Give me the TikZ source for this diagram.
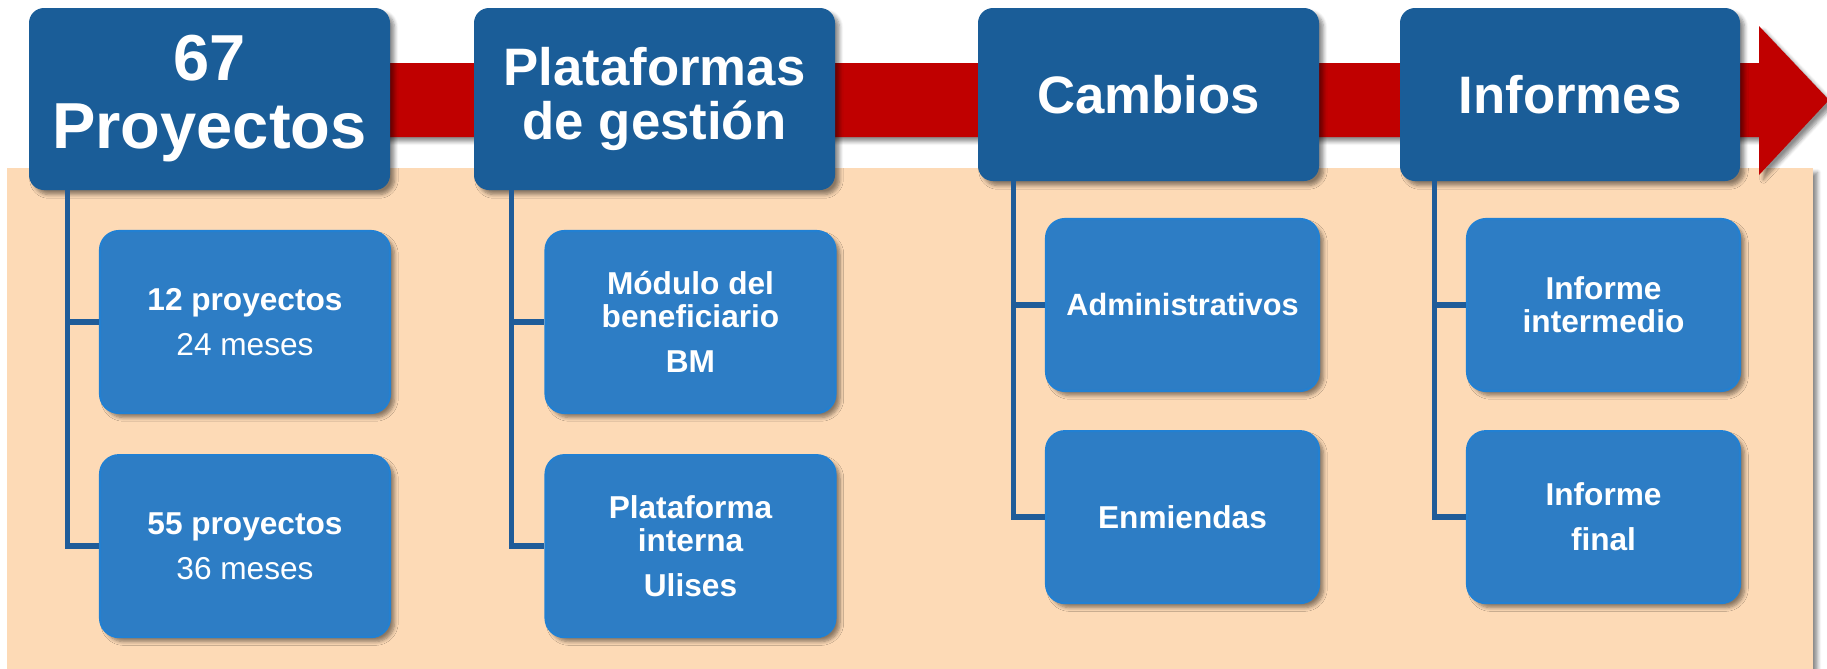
\documentclass[tikz,border=0pt]{standalone}
\usepackage{fontspec}
\setmainfont{Liberation Sans}
\usetikzlibrary{positioning, shadows.blur}

\definecolor{headblue}{HTML}{1A5D98}
\definecolor{itemblue}{HTML}{2D7DC5}
\definecolor{itemedge}{HTML}{2280D2}
\definecolor{linkblue}{HTML}{1F5C99}
\definecolor{arrowred}{HTML}{C00000}
\definecolor{peach}{HTML}{FDDAB6}

\begin{document}
\begin{tikzpicture}[
  inner sep=0pt,
  soft/.style={blur shadow={shadow xshift=0.09cm, shadow yshift=-0.09cm, shadow blur steps=6, shadow opacity=45}},
  head/.style={rectangle, rounded corners=0.3cm, fill=headblue, text=white, align=center, soft},
  item/.style={rectangle, rounded corners=0.38cm, fill=itemblue, draw=itemedge, line width=1.2pt,
    text=white, align=center, soft, font=\fontsize{18}{18.8}\selectfont\bfseries},
  wide/.style={item, minimum width=5.8cm, minimum height=3.64cm},
  narrow/.style={item, minimum width=5.46cm, minimum height=3.44cm},
  link/.style={draw=linkblue, line width=3pt}]

  \useasboundingbox (0,0) rectangle (36.54,-13.36);

  \fill[peach, soft] (0.14,-3.36) rectangle (36.26,-13.8);
  \fill[arrowred, soft] (6,-1.26) -- (35.18,-1.26) -- (35.18,-0.52) -- (36.58,-2.0)
    -- (35.18,-3.5) -- (35.18,-2.74) -- (6,-2.74) -- cycle;

  \node[head, minimum width=7.22cm, minimum height=3.64cm, font=\fontsize{37}{38.7}\selectfont\bfseries]
    (proy) at (4.19,-1.98) {67\\Proyectos};
  \node[head, minimum width=7.22cm, minimum height=3.64cm, font=\fontsize{30}{31}\selectfont\bfseries]
    (plat) at (13.09,-1.98) {Plataformas\\de gestión};
  \node[head, minimum width=6.82cm, minimum height=3.46cm, font=\fontsize{30}{31}\selectfont\bfseries]
    (camb) at (22.97,-1.89) {Cambios};
  \node[head, minimum width=6.80cm, minimum height=3.46cm, font=\fontsize{30}{31}\selectfont\bfseries]
    (info) at (31.40,-1.89) {Informes};

  \node[wide] (p12) at (4.90,-6.44) {12 proyectos\\[6.8pt]\mdseries 24 meses};
  \node[wide, below=0.8cm of p12] (p55) {55 proyectos\\[6.8pt]\mdseries 36 meses};

  \node[wide] (modulo) at (13.81,-6.44) {Módulo del\\beneficiario\\[6.8pt]BM};
  \node[wide, below=0.8cm of modulo] (ulises) {Plataforma\\interna\\[6.8pt]Ulises};

  \node[narrow, font=\fontsize{17.5}{18.8}\selectfont\bfseries] (admin) at (23.65,-6.10) {Administrativos};
  \node[narrow, below=0.76cm of admin] (enm) {Enmiendas};

  \node[narrow] (inter) at (32.07,-6.10) {Informe\\intermedio};
  \node[narrow, below=0.76cm of inter] (final) {Informe\\[6.8pt]final};

  \draw[link] ([xshift=0.78cm]proy.south west) |- (p12.west);
  \draw[link] ([xshift=0.78cm]proy.south west) |- (p55.west);
  \draw[link] ([xshift=0.76cm]plat.south west) |- (modulo.west);
  \draw[link] ([xshift=0.76cm]plat.south west) |- (ulises.west);
  \draw[link] ([xshift=0.72cm]camb.south west) |- (admin.west);
  \draw[link] ([xshift=0.72cm]camb.south west) |- (enm.west);
  \draw[link] ([xshift=0.70cm]info.south west) |- (inter.west);
  \draw[link] ([xshift=0.70cm]info.south west) |- (final.west);
\end{tikzpicture}
\end{document}
